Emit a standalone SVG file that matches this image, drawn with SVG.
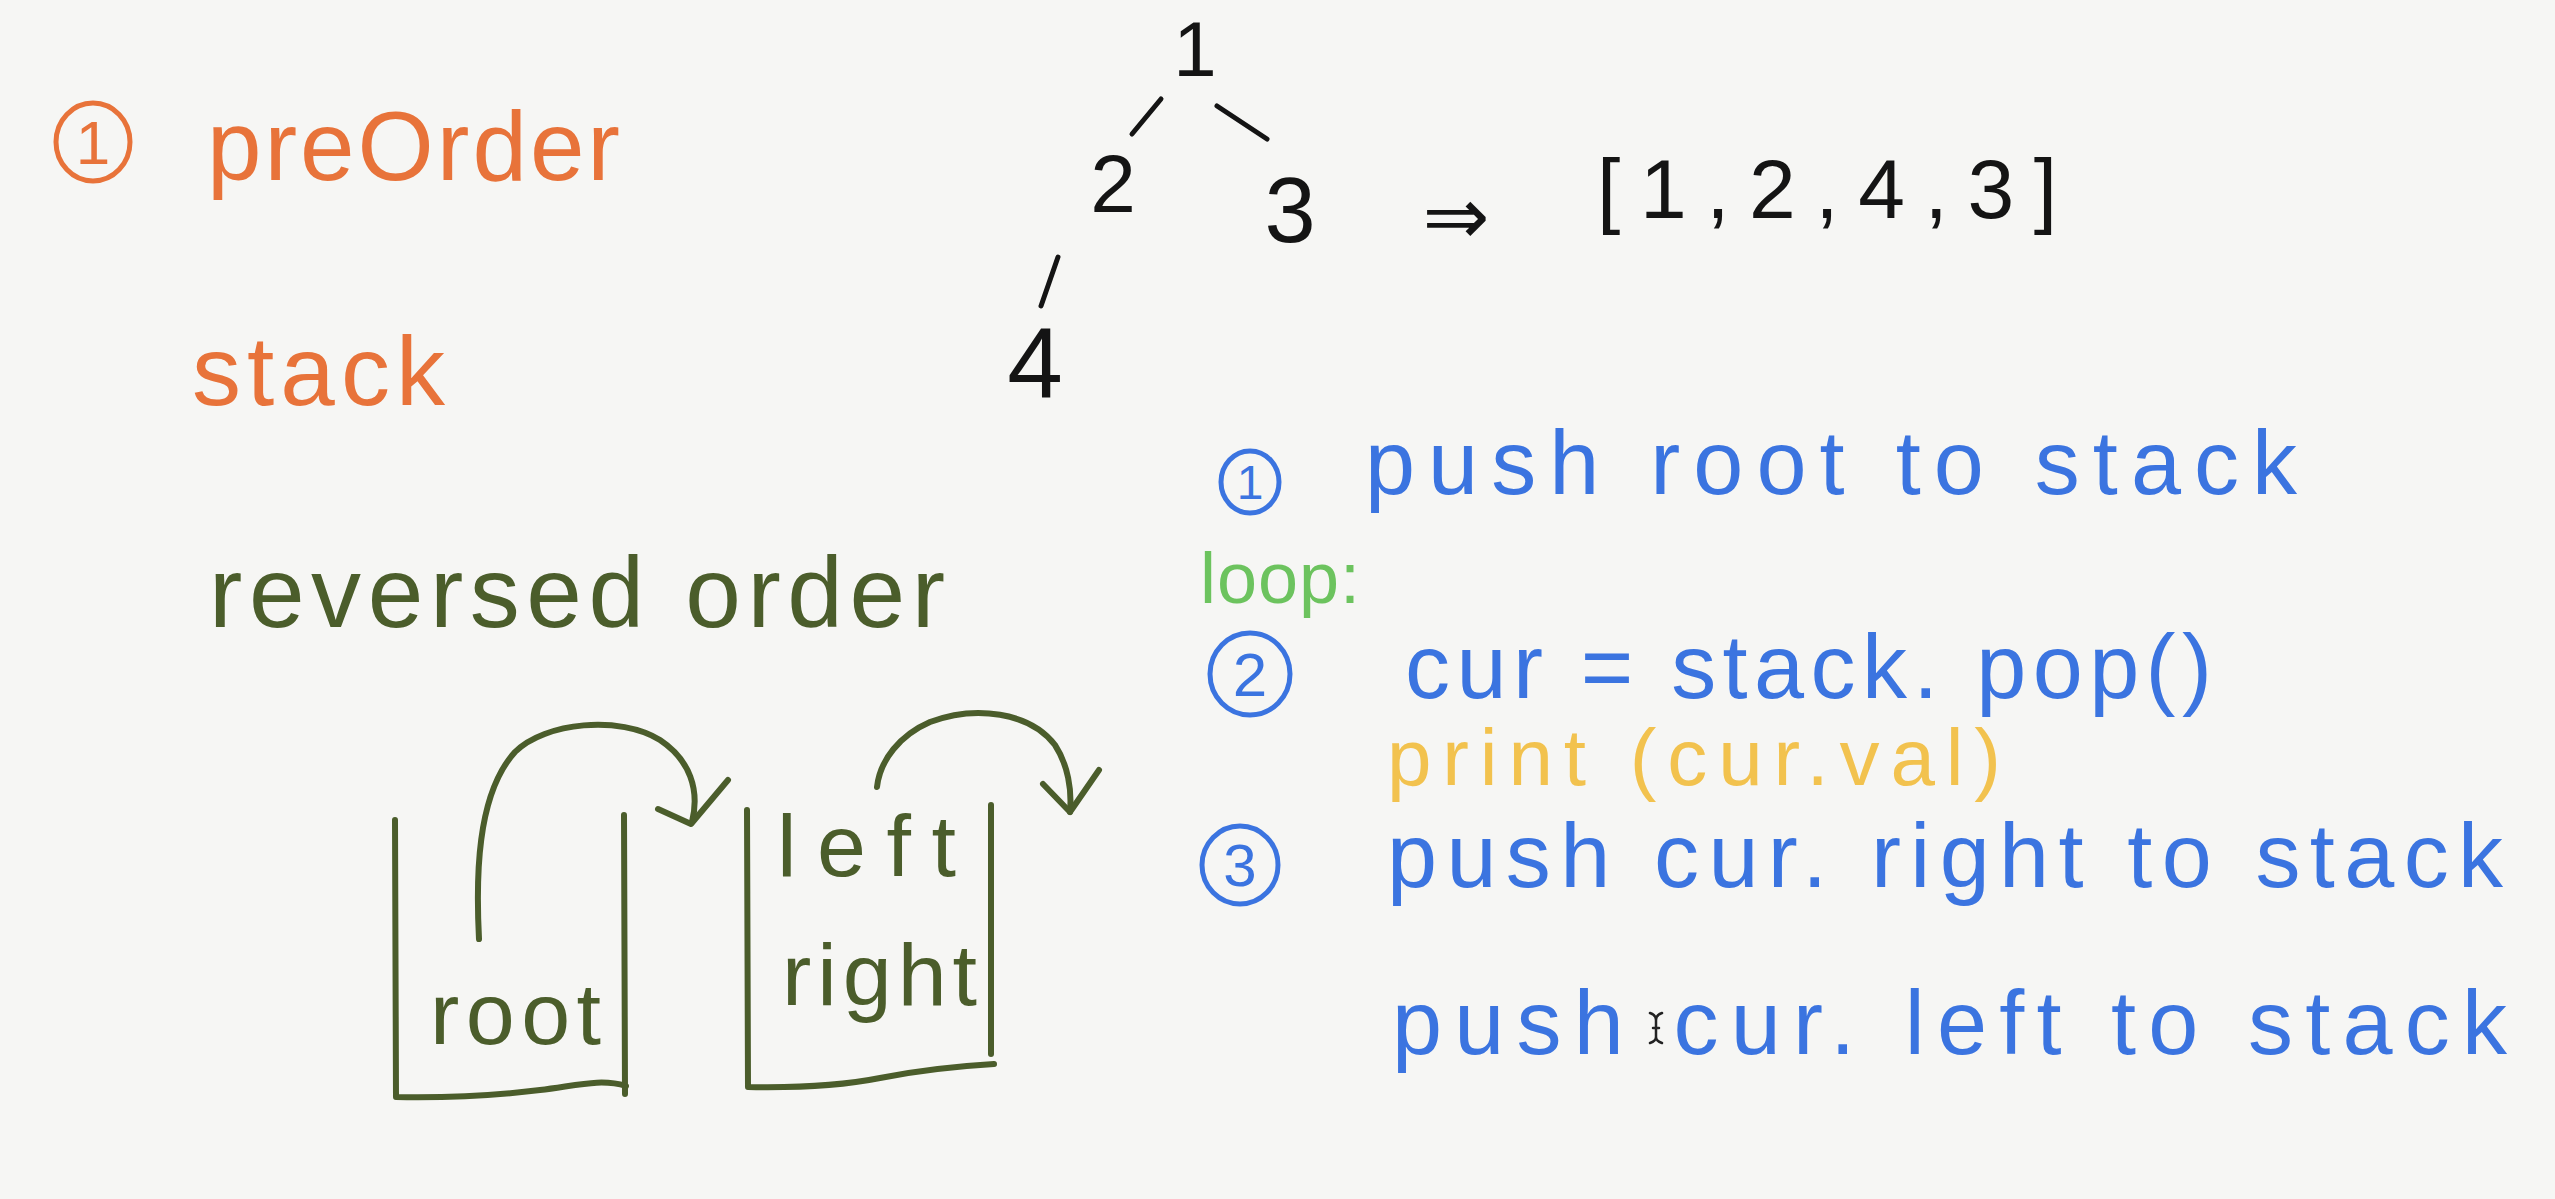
<svg xmlns="http://www.w3.org/2000/svg" width="2555" height="1199" viewBox="0 0 2555 1199">
<style>
.t{font-family:"Liberation Sans","Noto Sans",sans-serif;}
.n{font-family:"Liberation Sans","Noto Sans",sans-serif;text-anchor:middle;}
.or{fill:#E8733A;}
.dg{fill:#4B5D2B;}
.bk{fill:#141414;}
.bl{fill:#3B74E0;}
.gr{fill:#6CC35E;}
.ye{fill:#F2C24E;}
.co{fill:none;stroke:#E8733A;stroke-width:5;}
.cb{fill:none;stroke:#3B74E0;stroke-width:5;}
.ln{fill:none;stroke-linecap:round;stroke-linejoin:round;}
.lk{stroke:#141414;stroke-width:5;}
.lg{stroke:#4B5D2B;stroke-width:6;}
</style>
<rect x="0" y="0" width="2555" height="1199" fill="#F6F6F4"/>

<g id="title">
  <ellipse class="co" cx="93" cy="142" rx="37" ry="39"/>
  <text class="n or" x="93" y="164" font-size="62">1</text>
  <text class="t or" x="207" y="180" font-size="98" textLength="413" lengthAdjust="spacing">preOrder</text>
</g>
<g id="stack-label">
  <text class="t or" x="192" y="405" font-size="98" textLength="253" lengthAdjust="spacing">stack</text>
</g>
<g id="reversed-order">
  <text class="t dg" x="209" y="627" font-size="100" textLength="736" lengthAdjust="spacing">reversed order</text>
</g>

<g id="tree-1"><text class="t bk" x="1195" y="76" font-size="78" text-anchor="middle">1</text></g>
<g id="tree-2"><text class="t bk" x="1113" y="212" font-size="82" text-anchor="middle">2</text></g>
<g id="tree-3"><text class="t bk" x="1290" y="242" font-size="92" text-anchor="middle">3</text></g>
<g id="tree-4"><text class="t bk" x="1035" y="398" font-size="100" text-anchor="middle">4</text></g>
<g id="implies"><text class="t bk" x="1456" y="244" font-size="80" text-anchor="middle" style="font-family:'DejaVu Sans',sans-serif">⇒</text></g>
<g id="result"><text class="t bk" x="1597" y="218" font-size="84" textLength="460" lengthAdjust="spacing">[1,2,4,3]</text></g>

<g id="step1">
  <ellipse class="cb" cx="1250" cy="482" rx="29" ry="31"/>
  <text class="n bl" x="1250" y="499" font-size="48">1</text>
  <text class="t bl" x="1365" y="494" font-size="90" textLength="932" lengthAdjust="spacing">push root to stack</text>
</g>
<g id="loop"><text class="t gr" x="1200" y="603" font-size="72" textLength="160" lengthAdjust="spacing">loop:</text></g>
<g id="step2">
  <ellipse class="cb" cx="1250" cy="674" rx="40" ry="41"/>
  <text class="n bl" x="1250" y="696" font-size="62">2</text>
  <text class="t bl" x="1405" y="698" font-size="90" textLength="807" lengthAdjust="spacing">cur = stack. pop()</text>
</g>
<g id="print"><text class="t ye" x="1387" y="785" font-size="80" textLength="614" lengthAdjust="spacing">print (cur.val)</text></g>
<g id="step3">
  <ellipse class="cb" cx="1240" cy="865" rx="38" ry="39"/>
  <text class="n bl" x="1240" y="886" font-size="60">3</text>
  <text class="t bl" x="1387" y="887" font-size="90" textLength="1116" lengthAdjust="spacing">push cur. right to stack</text>
</g>
<g id="step3b"><text class="t bl" x="1392" y="1054" font-size="90" textLength="1115" lengthAdjust="spacing">push cur. left to stack</text></g>

<g id="stack-a">
  <path class="ln lg" d="M395,820 L396,1097 C450,1098 500,1095 540,1090 C575,1086 600,1078 626,1086"/>
  <path class="ln lg" d="M624,815 L625,1094"/>
  <text class="t dg" x="430" y="1044" font-size="88" textLength="171" lengthAdjust="spacing">root</text>
</g>
<g id="stack-b">
  <path class="ln lg" d="M747,810 L748,1087 C800,1088 840,1086 880,1078 C920,1070 960,1066 994,1064"/>
  <path class="ln lg" d="M991,805 L991,1054"/>
  <text class="t dg" x="777" y="876" font-size="88" textLength="179" lengthAdjust="spacing">left</text>
  <text class="t dg" x="782" y="1005" font-size="88" textLength="195" lengthAdjust="spacing">right</text>
</g>

<g id="connectors">
  <path class="ln lk" d="M1161,99 L1132,134"/>
  <path class="ln lk" d="M1217,106 L1267,139"/>
  <path class="ln lk" d="M1058,257 L1041,306"/>
  <path class="ln lg" d="M479,939 C476,880 476,795 515,752 C545,722 620,715 660,740 C690,760 700,790 692,822"/>
  <path class="ln lg" d="M658,809 L691,824 L728,780"/>
  <path class="ln lg" d="M877,787 C880,760 900,735 930,722 C975,705 1030,712 1055,745 C1068,765 1072,790 1070,812"/>
  <path class="ln lg" d="M1043,784 L1070,812 L1099,770"/>
</g>

<g id="cursor">
  <path class="ln" stroke="#222" stroke-width="2.5" d="M1650,1013 Q1656,1015 1656,1020 L1656,1037 Q1656,1041 1650,1043 M1662,1013 Q1656,1015 1656,1020 M1656,1037 Q1656,1041 1662,1043 M1653,1028 L1659,1028"/>
</g>
</svg>
